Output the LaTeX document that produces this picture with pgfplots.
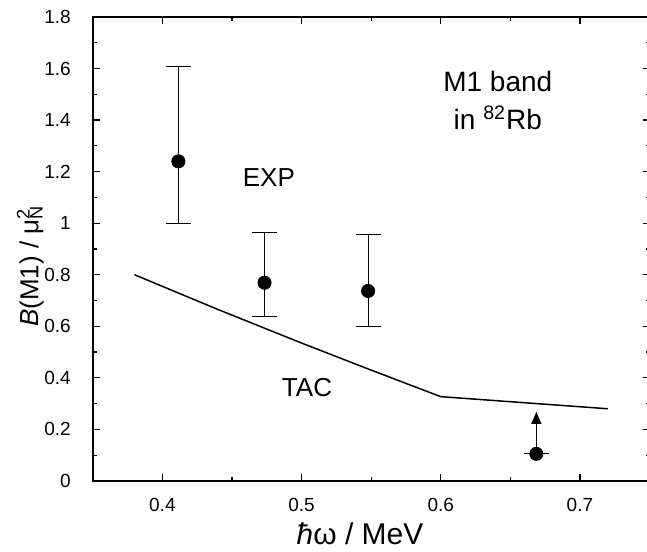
\documentclass[border=0pt]{standalone}
\usepackage{fontspec}
\setmainfont{Liberation Sans}
\usepackage{pgfplots}
\pgfplotsset{compat=1.18}
\usetikzlibrary{calc,arrows.meta}
\begin{document}
\begin{tikzpicture}
\begin{axis}[
  name=ax,
  scale only axis,
  width=278.4pt, height=232pt,
  xmin=0.35, xmax=0.75, ymin=0, ymax=1.8,
  xtick={0.4,0.5,0.6,0.7},
  ytick={0,0.2,0.4,0.6,0.8,1,1.2,1.4,1.6,1.8},
  minor x tick num=1, minor y tick num=1,
  tick align=inside,
  major tick length=3.5pt, minor tick length=2pt,
  axis line style={line width=0.75pt},
  every tick/.style={black, line width=0.6pt},
  /pgf/number format/assume math mode=true,
  tick label style={font=\fontsize{9.5}{11}\selectfont},
  yticklabel style={xshift=-7.5pt},
  xticklabel style={yshift=-5pt},
  xlabel={\textit{ħ}ω / MeV},
  ylabel={\textit{B}(M1) / μ\rlap{\textsuperscript{2}}\textsubscript{N}},
  every axis x label/.style={at={(axis description cs:0.48,-0.114)}, anchor=center, font=\fontsize{15}{17}\selectfont},
  every axis y label/.style={at={(axis description cs:-0.112,0.463)}, anchor=center, rotate=90, font=\fontsize{13}{16}\selectfont},
  clip=false,
]
% TAC curve
\addplot[black, line width=0.75pt, mark=none] coordinates {
  (0.38,0.80) (0.44,0.665) (0.50,0.535) (0.55,0.43) (0.60,0.327) (0.72,0.28)
};
% EXP points with asymmetric errors
\addplot[black, only marks, mark=*, mark size=3.3pt,
  error bars/.cd, y dir=both, y explicit,
  error bar style={line width=0.5pt},
  error mark options={rotate=90, mark size=6.25pt, line width=0.5pt}]
coordinates {
  (0.4115,1.24) += (0,0.368) -= (0,0.241)
  (0.4734,0.769) += (0,0.196) -= (0,0.130)
  (0.5478,0.737) += (0,0.221) -= (0,0.138)
};
% lower limit point
\addplot[black, line width=0.6pt, -{Triangle[length=6pt,width=5pt]}] coordinates {(0.6687,0.105) (0.6687,0.268)};
\addplot[black, only marks, mark=*, mark size=3.3pt,
  error bars/.cd, x dir=both, x explicit,
  error bar style={line width=0.5pt},
  error mark=none]
coordinates {
  (0.6687,0.105) +- (0.009,0)
};
\node[font=\fontsize{13}{15}\selectfont] at (axis cs:0.4765,1.178) {EXP};
\node[font=\fontsize{13}{15}\selectfont] at (axis cs:0.5039,0.363) {TAC};
\node[font=\fontsize{14}{19}\selectfont, align=center] at (axis cs:0.641,1.475) {M1 band\\in \textsuperscript{82}Rb};
\end{axis}
\pgfresetboundingbox
\path[use as bounding box] ($(ax.south west)+(-46.4pt,-35.5pt)$) rectangle ($(ax.north east)+(-1.25pt,8.5pt)$);
\end{tikzpicture}
\end{document}
